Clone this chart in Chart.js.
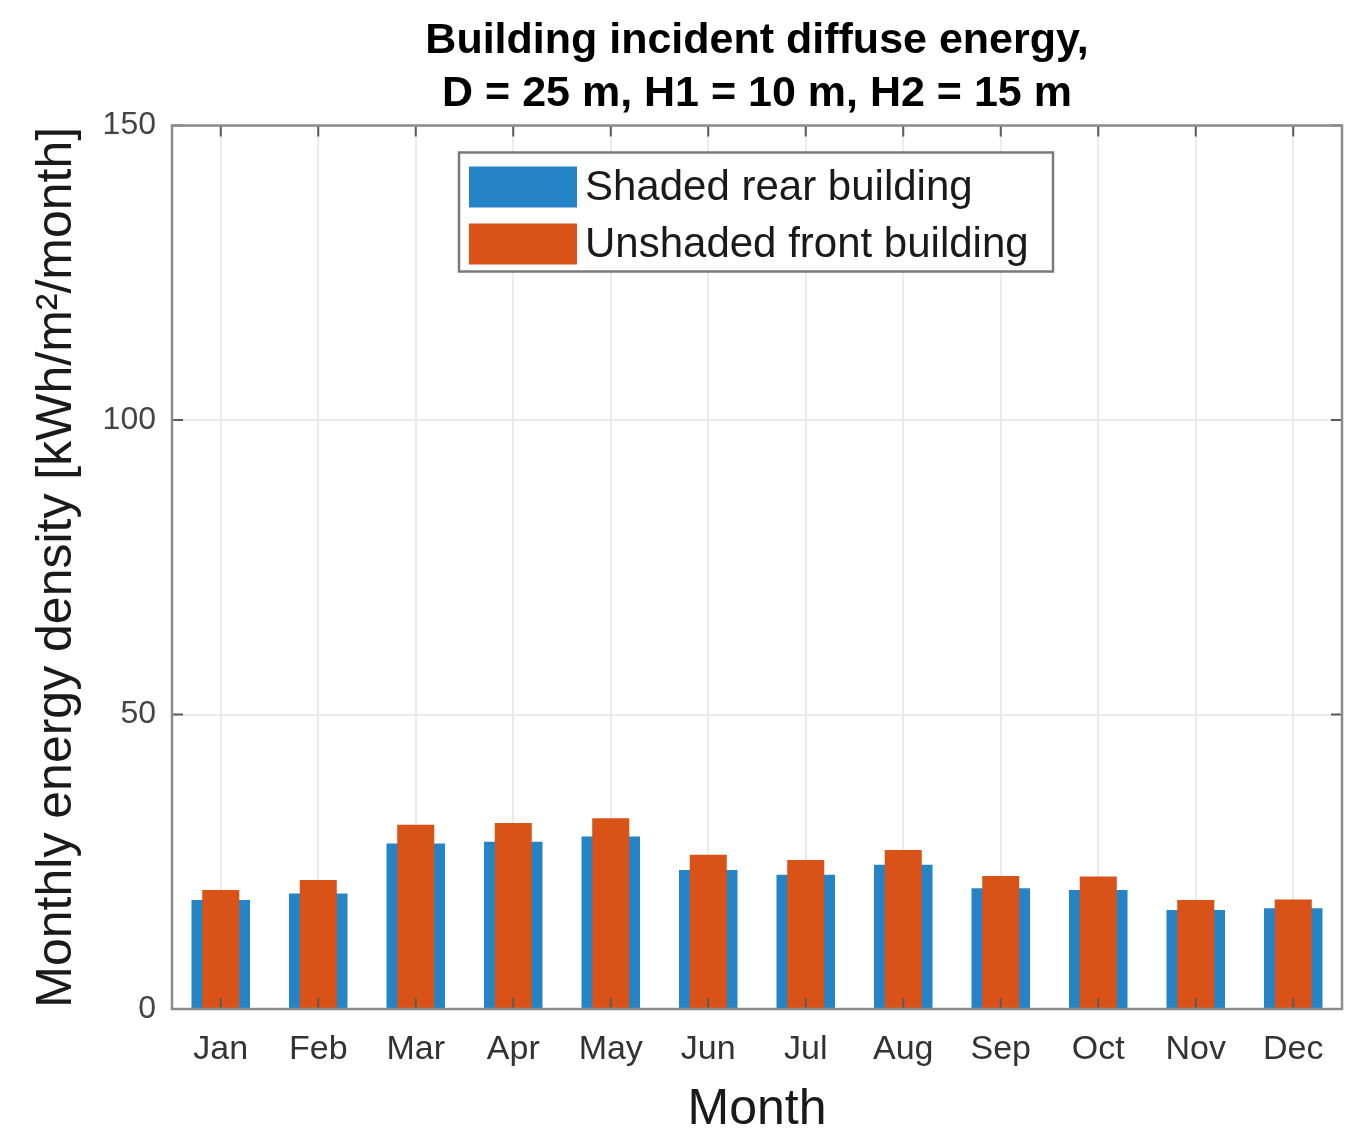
<!DOCTYPE html>
<html>
<head>
<meta charset="utf-8">
<script src="https://cdn.jsdelivr.net/npm/chart.js@4/dist/chart.umd.min.js"></script>
<style>
  body { margin: 0; background: #fff; }
  #wrap { width: 1367px; height: 1140px; position: relative; }
</style>
</head>
<body>
<div id="wrap"><canvas id="chart"></canvas></div>
<script>
// Monthly diffuse energy on the two buildings
const months = ['Jan', 'Feb', 'Mar', 'Apr', 'May', 'Jun', 'Jul', 'Aug', 'Sep', 'Oct', 'Nov', 'Dec'];
const shadedRear = [18.5, 19.6, 28.1, 28.4, 29.3, 23.6, 22.8, 24.5, 20.5, 20.2, 16.8, 17.1];
const unshadedFront = [20.2, 21.9, 31.3, 31.6, 32.4, 26.2, 25.3, 27.0, 22.6, 22.5, 18.5, 18.6];
const yTicks = [0, 50, 100, 150];

const FONT = '"Liberation Sans", Arial, sans-serif';
const BOX = '#8c8c8c';
const TICKC = '#5a5a5a';

// MATLAB-style box with inward ticks, plus the in-plot legend
const boxPlugin = {
  id: 'matlabBox',
  afterDatasetsDraw(chart) {
    const { ctx, chartArea: a, scales } = chart;
    ctx.save();
    ctx.strokeStyle = TICKC;
    ctx.lineWidth = 2;
    const len = 11;
    months.forEach((m, i) => {
      const x = scales.x.getPixelForValue(i);
      ctx.beginPath();
      ctx.moveTo(x, a.bottom); ctx.lineTo(x, a.bottom - len);
      ctx.moveTo(x, a.top); ctx.lineTo(x, a.top + len);
      ctx.stroke();
    });
    yTicks.forEach((v) => {
      const y = scales.y.getPixelForValue(v);
      ctx.beginPath();
      ctx.moveTo(a.left, y); ctx.lineTo(a.left + len, y);
      ctx.moveTo(a.right, y); ctx.lineTo(a.right - len, y);
      ctx.stroke();
    });
    ctx.strokeStyle = BOX;
    ctx.lineWidth = 2.5;
    ctx.strokeRect(a.left, a.top, a.right - a.left, a.bottom - a.top);

    // legend
    const lx = a.left + 287, ly = a.top + 27, lw = 594, lh = 119;
    ctx.fillStyle = '#fff';
    ctx.fillRect(lx, ly, lw, lh);
    ctx.strokeStyle = '#7a7a7a';
    ctx.lineWidth = 2.5;
    ctx.strokeRect(lx, ly, lw, lh);
    ctx.font = '42px ' + FONT;
    ctx.textBaseline = 'middle';
    chart.data.datasets.forEach((ds, i) => {
      const cy = ly + 34 + i * 57;
      ctx.fillStyle = ds.backgroundColor;
      ctx.fillRect(lx + 10, cy - 20, 108, 41);
      ctx.fillStyle = '#1a1a1a';
      ctx.fillText(ds.label, lx + 126, cy + 2);
    });
    ctx.restore();
  }
};

new Chart(document.getElementById('chart'), {
  type: 'bar',
  data: {
    labels: months,
    datasets: [
      {
        label: 'Shaded rear building',
        data: shadedRear,
        backgroundColor: '#2484c6',
        barPercentage: 0.6,
        categoryPercentage: 1,
        grouped: false,
        order: 2
      },
      {
        label: 'Unshaded front building',
        data: unshadedFront,
        backgroundColor: '#d95319',
        barPercentage: 0.38,
        categoryPercentage: 1,
        grouped: false,
        order: 1
      }
    ]
  },
  options: {
    responsive: true,
    maintainAspectRatio: false,
    animation: false,
    layout: { padding: { left: 0, right: 25, top: 0, bottom: 0 } },
    plugins: {
      legend: { display: false },
      tooltip: { enabled: false },
      title: {
        display: true,
        fullSize: false,
        text: ['Building incident diffuse energy,', 'D = 25 m, H1 = 10 m, H2 = 15 m'],
        font: { family: FONT, size: 43, weight: 'bold', lineHeight: 1.25 },
        color: '#000',
        padding: { top: 14, bottom: 4 }
      }
    },
    scales: {
      x: {
        grid: { offset: false, color: '#ebebeb', lineWidth: 2, drawTicks: false },
        border: { display: false },
        ticks: { color: '#333', font: { family: FONT, size: 34 }, padding: 20, maxRotation: 0 },
        title: { display: true, text: 'Month', color: '#1a1a1a', font: { family: FONT, size: 50 }, padding: { top: 0, bottom: 0 } },
        afterFit: (s) => { s.height = 131; }
      },
      y: {
        min: 0,
        max: 150,
        afterBuildTicks: (s) => { s.ticks = yTicks.map((v) => ({ value: v })); },
        grid: { color: '#ebebeb', lineWidth: 2, drawTicks: false },
        border: { display: false },
        ticks: { color: '#444', font: { family: FONT, size: 32 }, padding: 16 },
        title: { display: true, text: 'Monthly energy density [kWh/m²/month]', color: '#1a1a1a', font: { family: FONT, size: 50 }, padding: { top: 27, bottom: 0 } },
        afterFit: (s) => { s.width = 172; }
      }
    }
  },
  plugins: [boxPlugin]
});
</script>
</body>
</html>
